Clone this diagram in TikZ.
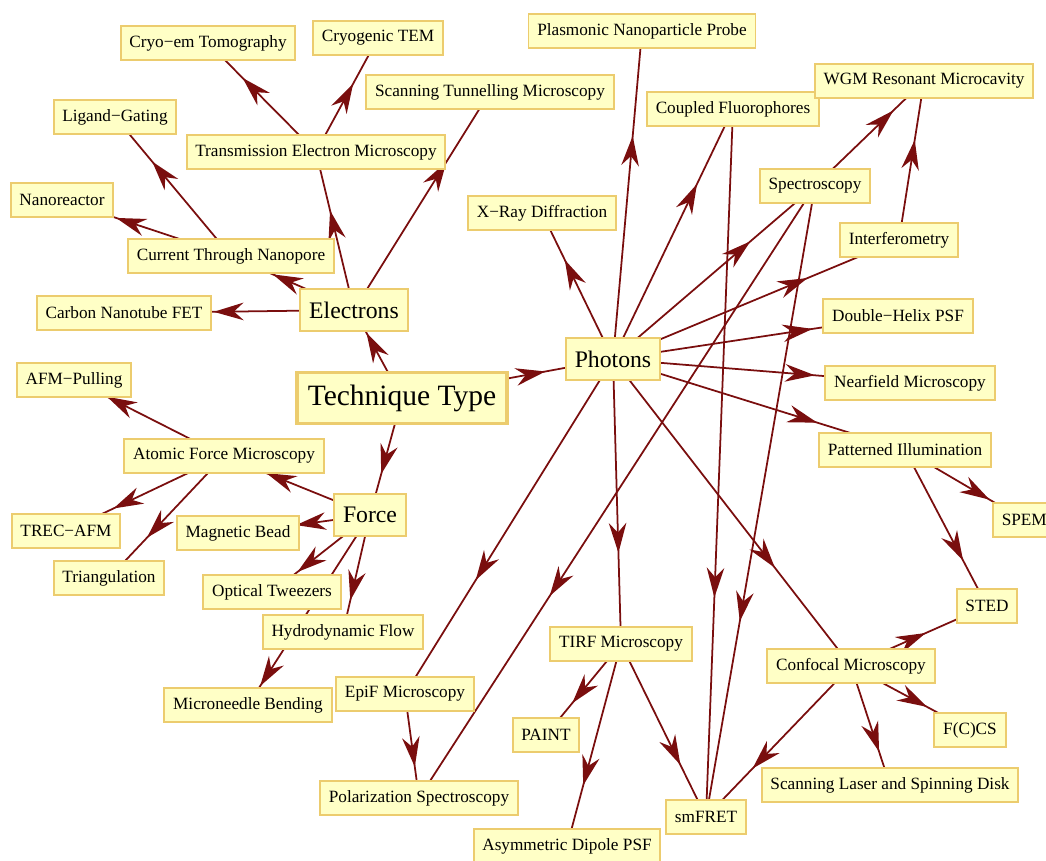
\documentclass[tikz,border=0pt]{standalone}
\usepackage{fontspec}
\setmainfont{Liberation Serif}
\usepackage{xcolor}
\usetikzlibrary{arrows.meta, decorations.markings, backgrounds}
\definecolor{boxfill}{RGB}{255,255,198}
\definecolor{boxline}{RGB}{236,204,110}
\definecolor{edgered}{RGB}{122,14,14}

\begin{document}
\begin{tikzpicture}[x=0.02cm, y=-0.02cm,
		item/.style={draw=boxline, fill=boxfill, line width=1.1pt, minimum height=19pt, inner xsep=5pt, inner ysep=2pt, font=\fontsize{9.8}{11}\selectfont},
		branch/.style={item, minimum height=24pt, font=\fontsize{13.5}{15}\selectfont},
		root/.style={item, line width=2.2pt, minimum height=29pt, inner xsep=6pt, font=\fontsize{16.8}{18}\selectfont},
		link/.style={color=edgered, line width=1pt, decoration={markings, mark=at position #1 with {\arrow{Stealth[length=17pt, width=10pt, inset=5.5pt]}}}, postaction={decorate}},
		link/.default=0.68]
		\useasboundingbox (0,0) rectangle (1046,861);
		\node[root] (tech) at (402,398) {Technique Type};
		\node[branch] (elec) at (354,310) {Electrons};
		\node[branch] (phot) at (613,359) {Photons};
		\node[branch] (force) at (370,515) {Force};

		\node[item] (tem) at (316,152) {Transmission Electron Microscopy};
		\node[item] (cryoem) at (208,43) {Cryo−em Tomography};
		\node[item] (cryotem) at (378,38) {Cryogenic TEM};
		\node[item] (stm) at (490,92) {Scanning Tunnelling Microscopy};
		\node[item] (nanopore) at (231,256) {Current Through Nanopore};
		\node[item] (ligand) at (115,117) {Ligand−Gating};
		\node[item] (reactor) at (62,200) {Nanoreactor};
		\node[item] (cnt) at (124,313) {Carbon Nanotube FET};

		\node[item] (afm) at (224,456) {Atomic Force Microscopy};
		\node[item] (pulling) at (74,380) {AFM−Pulling};
		\node[item] (trec) at (66,531) {TREC−AFM};
		\node[item] (triang) at (109,578) {Triangulation};
		\node[item] (bead) at (238,533) {Magnetic Bead};
		\node[item] (tweezers) at (272,592) {Optical Tweezers};
		\node[item] (flow) at (343,632) {Hydrodynamic Flow};
		\node[item] (needle) at (248,705) {Microneedle Bending};

		\node[item] (xray) at (542,213) {X−Ray Diffraction};
		\node[item] (plasmon) at (642,31) {Plasmonic Nanoparticle Probe};
		\node[item] (coupled) at (733,109) {Coupled Fluorophores};
		\node[item] (wgm) at (924,81) {WGM Resonant Microcavity};
		\node[item] (spectro) at (815,186) {Spectroscopy};
		\node[item] (interf) at (899,240) {Interferometry};
		\node[item] (helix) at (898,316) {Double−Helix PSF};
		\node[item] (nearfield) at (910,383) {Nearfield Microscopy};
		\node[item] (pattern) at (905,450) {Patterned Illumination};
		\node[item, anchor=west] (spem) at (992,520) {SPEM};
		\node[item] (sted) at (987,606) {STED};
		\node[item] (tirf) at (621,644) {TIRF Microscopy};
		\node[item] (confocal) at (851,666) {Confocal Microscopy};
		\node[item] (epif) at (405,694) {EpiF Microscopy};
		\node[item] (paint) at (546,735) {PAINT};
		\node[item] (fccs) at (970,730) {F(C)CS};
		\node[item] (scanlaser) at (890,785) {Scanning Laser and Spinning Disk};
		\node[item] (polar) at (419,798) {Polarization Spectroscopy};
		\node[item] (smfret) at (706,817) {smFRET};
		\node[item] (dipole) at (567,846) {Asymmetric Dipole PSF};

		\begin{scope}[on background layer]
			\draw[link=0.74] (tech.center) -- (elec.center);
			\draw[link] (tech.center) -- (phot.center);
			\draw[link=0.65] (tech.center) -- (force.center);
			\draw[link=0.63] (elec.center) -- (tem.center);
			\draw[link] (elec.center) -- (stm.center);
			\draw[link=0.66] (elec.center) -- (nanopore.center);
			\draw[link=0.61] (elec.center) -- (cnt.center);
			\draw[link] (tem.center) -- (cryoem.center);
			\draw[link=0.6] (tem.center) -- (cryotem.center);
			\draw[link] (nanopore.center) -- (ligand.center);
			\draw[link] (nanopore.center) -- (reactor.center);
			\draw[link=0.71] (force.center) -- (afm.center);
			\draw[link=0.56] (force.center) -- (bead.center);
			\draw[link=0.74] (force.center) -- (tweezers.center);
			\draw[link=0.73] (force.center) -- (flow.center);
			\draw[link=0.9] (force.center) -- (needle.center);
			\draw[link=0.78] (afm.center) -- (pulling.center);
			\draw[link=0.7] (afm.center) -- (trec.center);
			\draw[link=0.67] (afm.center) -- (triang.center);
			\draw[link] (phot.center) -- (xray.center);
			\draw[link] (phot.center) -- (plasmon.center);
			\draw[link=0.7] (phot.center) -- (coupled.center);
			\draw[link] (phot.center) -- (spectro.center);
			\draw[link] (phot.center) -- (interf.center);
			\draw[link=0.7] (phot.center) -- (helix.center);
			\draw[link] (phot.center) -- (nearfield.center);
			\draw[link=0.7] (phot.center) -- (pattern.center);
			\draw[link] (phot.center) -- (tirf.center);
			\draw[link=0.66] (phot.center) -- (epif.center);
			\draw[link] (phot.center) -- (confocal.center);
			\draw[link=0.72] (spectro.center) -- (wgm.center);
			\draw[link=0.63] (interf.center) -- (wgm.center);
			\draw[link=0.67] (spectro.center) -- (polar.center);
			\draw[link=0.69] (spectro.center) -- (smfret.center);
			\draw[link=0.69] (coupled.center) -- (smfret.center);
			\draw[link=0.71] (pattern.center) -- (sted.center);
			\draw[link=0.71] (pattern.center) -- (spem.center);
			\draw[link=0.65] (tirf.center) -- (paint.center);
			\draw[link=0.7] (tirf.center) -- (dipole.center);
			\draw[link=0.7] (tirf.center) -- (smfret.center);
			\draw[link=0.55] (confocal.center) -- (sted.center);
			\draw[link=0.64] (confocal.center) -- (fccs.center);
			\draw[link=0.72] (confocal.center) -- (scanlaser.center);
			\draw[link] (confocal.center) -- (smfret.center);
			\draw[link=0.7] (epif.center) -- (polar.center);
		\end{scope}
		\end{tikzpicture}
\end{document}
